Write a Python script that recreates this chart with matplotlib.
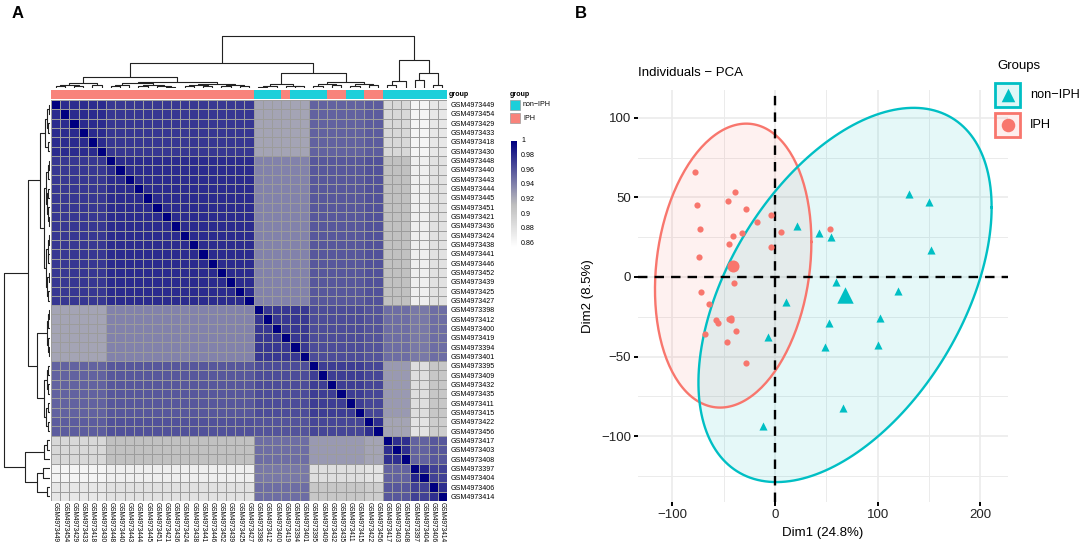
import numpy as np
import matplotlib
matplotlib.use("Agg")
import matplotlib.pyplot as plt
from matplotlib.colors import LinearSegmentedColormap
from matplotlib.patches import Rectangle

plt.rcParams["font.family"] = ["Liberation Sans", "DejaVu Sans"]

W, H = 1084, 544

# =========================
# DATA - panel A (sample correlation heatmap)
# =========================
SAMPLES = [
    "GSM4973449", "GSM4973454", "GSM4973429", "GSM4973433", "GSM4973418",
    "GSM4973430", "GSM4973448", "GSM4973440", "GSM4973443", "GSM4973444",
    "GSM4973445", "GSM4973451", "GSM4973421", "GSM4973436", "GSM4973424",
    "GSM4973438", "GSM4973441", "GSM4973446", "GSM4973452", "GSM4973439",
    "GSM4973425", "GSM4973427", "GSM4973398", "GSM4973412", "GSM4973400",
    "GSM4973419", "GSM4973394", "GSM4973401", "GSM4973395", "GSM4973409",
    "GSM4973432", "GSM4973435", "GSM4973411", "GSM4973415", "GSM4973422",
    "GSM4973456", "GSM4973417", "GSM4973403", "GSM4973408", "GSM4973397",
    "GSM4973404", "GSM4973406", "GSM4973414",
]

GROUPS = (["IPH"] * 22 + ["non-IPH"] * 3 + ["IPH"] * 1 + ["non-IPH"] * 4
          + ["IPH"] * 2 + ["non-IPH"] * 2 + ["IPH"] * 2 + ["non-IPH"] * 7)

# sub-clusters along the (clustered) sample order, and their mean correlation
CLUSTER_SIZES = [6, 16, 6, 6, 2, 3, 2, 2]
CLUSTER_COR = [
    # a1     a2     b1     b2     b3     c1     c2     c3
    [0.980, 0.975, 0.925, 0.955, 0.958, 0.890, 0.865, 0.877],
    [0.975, 0.980, 0.940, 0.960, 0.963, 0.910, 0.870, 0.882],
    [0.925, 0.940, 0.975, 0.965, 0.962, 0.950, 0.945, 0.950],
    [0.955, 0.960, 0.965, 0.972, 0.968, 0.930, 0.885, 0.905],
    [0.958, 0.963, 0.962, 0.968, 0.978, 0.925, 0.880, 0.900],
    [0.890, 0.910, 0.950, 0.930, 0.925, 0.978, 0.955, 0.960],
    [0.865, 0.870, 0.945, 0.885, 0.880, 0.955, 0.982, 0.970],
    [0.877, 0.882, 0.950, 0.905, 0.900, 0.960, 0.970, 0.978],
]

# dendrogram (same tree for rows and columns): (height, left, right), leaves = index
TREE = (1.00,
        (0.48,
         (0.21,
          (0.10, (0.06, (0.03, 0, 1), (0.04, 2, 3)), (0.05, 4, 5)),
          (0.12,
           (0.09, (0.05, (0.03, 6, 7), 8),
            (0.06, (0.035, 9, 10), (0.045, 11, (0.025, 12, 13)))),
           (0.08, (0.05, (0.03, 14, 15), (0.035, 16, 17)),
            (0.055, (0.03, 18, 19), (0.04, 20, 21))))),
         (0.29,
          (0.07, (0.04, (0.02, 22, 23), 24), (0.045, 25, (0.03, 26, 27))),
          (0.12, (0.07, (0.04, 28, 29), (0.05, 30, 31)),
           (0.08, (0.045, 32, 33), (0.05, 34, 35))))),
        (0.54,
         (0.13, (0.06, 36, 37), 38),
         (0.29, (0.15, 39, 40), (0.06, 41, 42))))

CBAR_TICKS = [1.0, 0.98, 0.96, 0.94, 0.92, 0.90, 0.88, 0.86]
CBAR_LABELS = ["1", "0.98", "0.96", "0.94", "0.92", "0.9", "0.88", "0.86"]
VMIN, VMAX = 0.855, 1.0

# =========================
# DATA - panel B (PCA individuals)
# =========================
IPH_X = [-77.9, -39.3, -76.0, -46.0, -28.5, -4.2, -17.2, -72.7, -32.0, -41.2,
         6.2, 53.2, -45.0, -3.9, -74.3, -39.9, -72.4, -64.6, -57.1, -55.5,
         -44.5, -42.5, -43.0, -37.7, -68.5, -46.7, -28.2]
IPH_Y = [65.8, 53.5, 45.5, 47.6, 42.6, 38.8, 34.6, 30.0, 27.9, 25.8,
         28.3, 30.4, 20.8, 18.9, 12.6, -3.8, -9.2, -17.0, -27.0, -28.7,
         -26.2, -27.3, -25.5, -34.0, -35.6, -41.1, -54.3]
NON_X = [21.1, 42.5, 54.5, 130.5, 149.6, 151.6, 59.7, 120.0, 10.4, 52.6,
         102.6, -6.8, 48.7, 100.0, 66.2, -12.0]
NON_Y = [32.1, 27.7, 25.2, 52.0, 47.4, 17.2, -3.1, -8.6, -15.5, -29.1,
         -25.6, -37.7, -43.8, -42.8, -82.4, -93.7]

# qf(0.95, 2, n-1) for the normal-theory 95% ellipse (n = 27 and n = 16)
F95 = {"IPH": 3.369, "non-IPH": 3.682}

RED = "#F8766D"
CYAN = "#00BFC4"
BAR_COLORS = {"IPH": "#F8837B", "non-IPH": "#1CCFDA"}
LABEL_FS = 5.1


def box(x0, y0, x1, y1):
    return [x0 / W, 1 - y1 / H, (x1 - x0) / W, (y1 - y0) / H]


def draw_tree(node, ax, vertical):
    if isinstance(node, int):
        return node + 0.5, 0.0
    h, left, right = node
    pl, hl = draw_tree(left, ax, vertical)
    pr, hr = draw_tree(right, ax, vertical)
    pos = [pl, pl, pr, pr]
    hts = [hl, h, h, hr]
    if vertical:
        ax.plot(pos, hts, color="#222222", lw=0.8, solid_capstyle="butt")
    else:
        ax.plot(hts, pos, color="#222222", lw=0.8, solid_capstyle="butt")
    return (pl + pr) / 2, h


def ellipse(xs, ys, f95):
    pts = np.column_stack([xs, ys])
    center = pts.mean(axis=0)
    cov = np.cov(pts.T)
    radius = np.sqrt(2 * f95)
    t = np.linspace(0, 2 * np.pi, 200)
    circle = np.column_stack([np.cos(t), np.sin(t)])
    chol = np.linalg.cholesky(cov).T
    e = center + radius * circle @ chol
    return e[:, 0], e[:, 1], center


fig = plt.figure(figsize=(W / 100, H / 100), dpi=100)

# =========================
# PANEL A
# =========================
n = len(SAMPLES)
idx = np.repeat(np.arange(len(CLUSTER_SIZES)), CLUSTER_SIZES)
cor = np.array(CLUSTER_COR)[idx][:, idx]
np.fill_diagonal(cor, 1.0)

cmap = LinearSegmentedColormap.from_list(
    "wgn", [(0.0, "white"), (0.40, "#BEBEBE"), (1.0, "#000080")])

ax_hm = fig.add_axes(box(51, 100, 447, 501))
ax_hm.pcolormesh(cor, cmap=cmap, vmin=VMIN, vmax=VMAX,
                 edgecolors="#9C9C9C", linewidth=0.6)
ax_hm.set_xlim(0, n)
ax_hm.set_ylim(n, 0)
for s in ax_hm.spines.values():
    s.set_visible(False)
ax_hm.yaxis.tick_right()
ax_hm.set_yticks(np.arange(n) + 0.5)
ax_hm.set_yticklabels(SAMPLES, fontsize=LABEL_FS)
ax_hm.set_xticks(np.arange(n) + 0.5)
ax_hm.set_xticklabels(SAMPLES, fontsize=4.7, rotation=270)
ax_hm.tick_params(axis="y", length=0, pad=2.5)
ax_hm.tick_params(axis="x", length=0, pad=1.0)

# group annotation bar
ax_grp = fig.add_axes(box(51, 90, 447, 99))
for i, g in enumerate(GROUPS):
    ax_grp.add_patch(Rectangle((i, 0), 1, 1, facecolor=BAR_COLORS[g], lw=0))
ax_grp.set_xlim(0, n)
ax_grp.set_ylim(0, 1)
ax_grp.axis("off")

# dendrograms
ax_top = fig.add_axes(box(51, 35, 447, 88))
draw_tree(TREE, ax_top, vertical=True)
ax_top.set_xlim(0, n)
ax_top.set_ylim(0, 1.02)
ax_top.axis("off")

ax_left = fig.add_axes(box(3, 100, 50, 501))
draw_tree(TREE, ax_left, vertical=False)
ax_left.set_ylim(n, 0)
ax_left.set_xlim(1.02, 0)
ax_left.axis("off")

# =========================
# PANEL B
# =========================
ax = fig.add_axes(box(638, 90, 1008, 502))
for s in ax.spines.values():
    s.set_visible(False)
ax.set_xlim(-133.4, 226.9)
ax.set_ylim(-141.5, 117.6)
ax.set_xticks([-100, 0, 100, 200])
ax.set_xticks([-50, 50, 150], minor=True)
ax.set_yticks([-100, -50, 0, 50, 100])
ax.set_yticks([-125, -75, -25, 25, 75], minor=True)
ax.grid(which="major", color="#EBEBEB", lw=1.2)
ax.grid(which="minor", color="#EBEBEB", lw=0.7)
ax.set_axisbelow(True)
ax.tick_params(which="minor", length=0)
ax.tick_params(which="major", length=3, width=1.4, color="black",
               labelsize=9.5, labelcolor="#222222", pad=2)

groups_b = [("IPH", IPH_X, IPH_Y, RED, "o", 20, 75),
            ("non-IPH", NON_X, NON_Y, CYAN, "^", 34, 140)]
centers = {}
for name, xs, ys, col, mk, sz, msz in groups_b:
    ex, ey, c = ellipse(xs, ys, F95[name])
    centers[name] = c
    ax.fill(ex, ey, color=col, alpha=0.1, lw=0, zorder=1)
    ax.plot(ex, ey, color=col, lw=1.7, zorder=2)

ax.axhline(0, color="black", ls=(0, (4, 3)), lw=1.7, zorder=3)
ax.axvline(0, color="black", ls=(0, (4, 3)), lw=1.7, zorder=3)

for name, xs, ys, col, mk, sz, msz in groups_b:
    ax.scatter(xs, ys, marker=mk, s=sz, color=col, lw=0, zorder=4)
    c = centers[name]
    ax.scatter([c[0]], [c[1]], marker=mk, s=msz, color=col, lw=0, zorder=5)

# =========================
# OVERLAY (legends, titles, panel letters) in pixel coords
# =========================
ov = fig.add_axes([0, 0, 1, 1])
ov.axis("off")

ov.text(12, 13, "A", fontsize=12, fontweight="bold", va="center")
ov.text(575, 13, "B", fontsize=12, fontweight="bold", va="center")

ov.text(449, 94.5, "group", fontsize=LABEL_FS, fontweight="bold", va="center")
ov.text(510, 94, "group", fontsize=LABEL_FS, fontweight="bold", va="center")
for k, g in enumerate(["non-IPH", "IPH"]):
    y0 = 100 + k * 13
    ov.add_patch(Rectangle((510, y0), 10, 10, facecolor=BAR_COLORS[g],
                           edgecolor="#9C9C9C", lw=0.5))
    ov.text(523, y0 + 5, g.replace("-", "\u2212"), fontsize=LABEL_FS,
            va="center")

grad = np.linspace(VMAX, VMIN, 200)[:, None]
ov.imshow(grad, cmap=cmap, vmin=VMIN, vmax=VMAX,
          extent=(511, 517, 247, 141), aspect="auto")
for v, lab in zip(CBAR_TICKS, CBAR_LABELS):
    ov.text(521, 141 + (1 - v) * 730, lab, fontsize=LABEL_FS, va="center")

ov.text(638, 73, "Individuals \u2212 PCA", fontsize=9.5, va="center")
ov.text(823, 533, "Dim1 (24.8%)", fontsize=9.5, ha="center", va="center")
ov.text(588, 296, "Dim2 (8.5%)", fontsize=9.5, ha="center", va="center",
        rotation=90)

ov.text(997, 66, "Groups", fontsize=9.5, va="center")
for k, (g, col, mk) in enumerate([("non\u2212IPH", CYAN, "^"), ("IPH", RED, "o")]):
    y0 = 83 + k * 30
    ov.add_patch(Rectangle((995, y0), 25, 24, facecolor=col, alpha=0.12, lw=0))
    ov.add_patch(Rectangle((995, y0), 25, 24, facecolor="none",
                           edgecolor=col, lw=2))
    ov.scatter([1007.5], [y0 + 12], marker=mk, s=95, color=col, lw=0)
    ov.text(1030, y0 + 12, g, fontsize=9.2, va="center")

ov.set_xlim(0, W)
ov.set_ylim(H, 0)

fig.savefig("out.png", dpi=100)
